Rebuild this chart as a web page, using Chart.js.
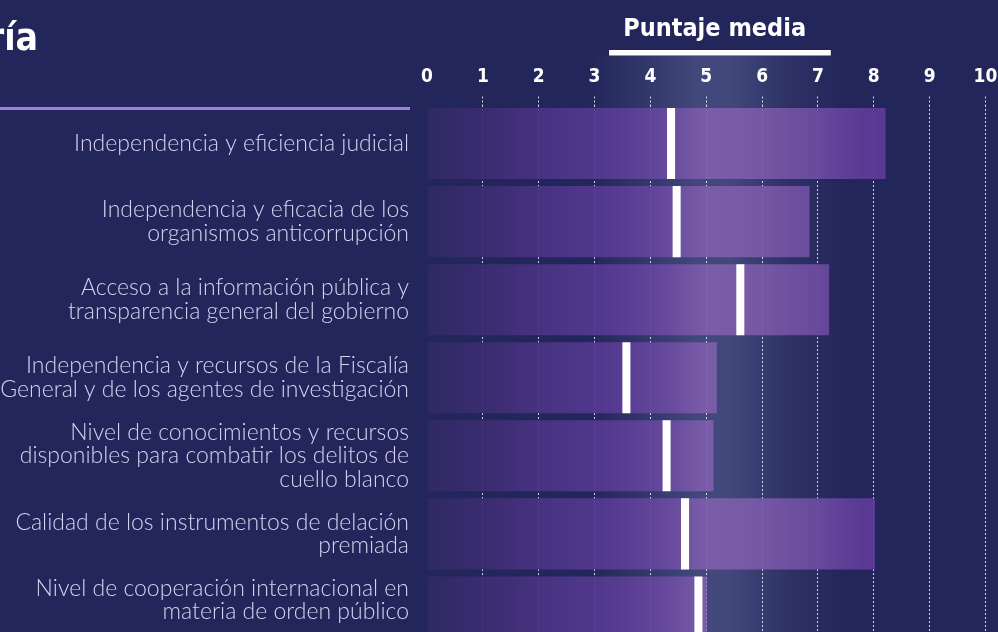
<!DOCTYPE html>
<html>
<head>
<meta charset="utf-8">
<script src="https://cdn.jsdelivr.net/npm/chart.js@4.4.0/dist/chart.umd.min.js"></script>
<style>
  html, body { margin: 0; padding: 0; background: #23265a; overflow: hidden; }
  #wrap { position: relative; width: 998px; height: 651px; }
  #head { position: absolute; right: 960px; top: 19px; color: #fff; font: bold 37px 'DejaVu Sans Condensed', 'DejaVu Sans', sans-serif; line-height: 1; white-space: nowrap; }
  #rule { position: absolute; left: 0; top: 106.5px; width: 410px; height: 3px; background: #a07ee0; }
</style>
</head>
<body>
<div id="wrap">
  <canvas id="grafico"></canvas>
  <div id="head">ría</div>
  <div id="rule"></div>
</div>
<script>
// categorias (eje y)
var categorias = [
  ["Independencia y eficiencia judicial"],
  ["Independencia y eficacia de los", "organismos anticorrupción"],
  ["Acceso a la información pública y", "transparencia general del gobierno"],
  ["Independencia y recursos de la Fiscalía", "General y de los agentes de investigación"],
  ["Nivel de conocimientos y recursos", "disponibles para combatir los delitos de", "cuello blanco"],
  ["Calidad de los instrumentos de delación", "premiada"],
  ["Nivel de cooperación internacional en", "materia de orden público", ""]
];
// valor de la barra
var puntaje = [8.21, 6.85, 7.20, 5.19, 5.13, 8.02, 5.01];
// puntaje media (marca blanca)
var media = [4.37, 4.47, 5.61, 3.57, 4.29, 4.62, 4.86];
var ejeMin = 0, ejeMax = 10;

var fuenteCond = "'DejaVu Sans Condensed', 'DejaVu Sans', sans-serif";

function gradBarra(context) {
  var chart = context.chart;
  var area = chart.chartArea;
  if (!area) return '#5a3a94';
  var x = chart.scales.x;
  var x0 = x.getPixelForValue(0), x1 = x.getPixelForValue(10);
  var g = chart.ctx.createLinearGradient(x0, 0, x1, 0);
  g.addColorStop(0.00, 'rgba(48,42,100,0.93)');
  g.addColorStop(0.10, 'rgba(60,45,114,0.93)');
  g.addColorStop(0.22, 'rgba(76,53,134,0.93)');
  g.addColorStop(0.33, 'rgba(88,59,148,0.93)');
  g.addColorStop(0.42, 'rgba(104,72,158,0.93)');
  g.addColorStop(0.50, 'rgba(126,94,172,0.93)');
  g.addColorStop(0.58, 'rgba(124,92,170,0.93)');
  g.addColorStop(0.70, 'rgba(108,76,160,0.93)');
  g.addColorStop(0.78, 'rgba(94,60,152,0.93)');
  g.addColorStop(1.00, 'rgba(92,59,150,0.93)');
  return g;
}

var fondo = {
  id: 'fondo',
  beforeDraw: function(chart) {
    var c = chart.ctx, x = chart.scales.x;
    var a = x.getPixelForValue(2.9), b = x.getPixelForValue(7.5);
    var g = c.createLinearGradient(a, 0, b, 0);
    g.addColorStop(0.00, 'rgba(66,72,123,0)');
    g.addColorStop(0.22, 'rgba(66,72,123,0.5)');
    g.addColorStop(0.42, 'rgba(66,72,123,1)');
    g.addColorStop(0.55, 'rgba(66,72,123,1)');
    g.addColorStop(0.78, 'rgba(66,72,123,0.35)');
    g.addColorStop(1.00, 'rgba(66,72,123,0)');
    c.save();
    c.fillStyle = g;
    c.fillRect(a, 56, b - a, chart.height - 56);
    c.restore();
  },
  afterDraw: function(chart) {
    var c = chart.ctx, x = chart.scales.x;
    c.save();
    c.fillStyle = '#ffffff';
    c.font = 'bold 25px ' + fuenteCond;
    c.textAlign = 'center';
    c.textBaseline = 'alphabetic';
    c.fillText('Puntaje media', x.getPixelForValue(5.15), 36);
    var u0 = x.getPixelForValue(3.26), u1 = x.getPixelForValue(7.23);
    c.fillRect(u0, 50, u1 - u0, 5.5);
    c.restore();
  }
};

var colorGrid = function(ctx) { return ctx.index === 0 ? 'rgba(0,0,0,0)' : 'rgba(255,255,255,0.8)'; };

new Chart(document.getElementById('grafico'), {
  type: 'bar',
  data: {
    labels: categorias,
    datasets: [
      {
        label: 'Media',
        data: media.map(function(m) { return [m - 0.072, m + 0.072]; }),
        backgroundColor: '#ffffff',
        grouped: false,
        order: 0,
        barPercentage: 0.91,
        categoryPercentage: 1
      },
      {
        label: 'Puntaje',
        data: puntaje,
        backgroundColor: gradBarra,
        grouped: false,
        order: 1,
        barPercentage: 0.91,
        categoryPercentage: 1
      }
    ]
  },
  options: {
    indexAxis: 'y',
    responsive: true,
    maintainAspectRatio: false,
    animation: false,
    layout: { padding: { top: 0, left: 0, right: 12.5, bottom: 0 } },
    plugins: { legend: { display: false }, tooltip: { enabled: false } },
    scales: {
      x: {
        position: 'top',
        min: ejeMin,
        max: ejeMax,
        ticks: {
          stepSize: 1,
          color: '#ffffff',
          padding: 8,
          font: { family: fuenteCond, size: 19, weight: 'bold' }
        },
        grid: {
          color: colorGrid,
          tickColor: colorGrid,
          lineWidth: 1,
          tickLength: 8,
          tickBorderDash: [2, 2]
        },
        border: { display: false, dash: [2, 2] },
        afterFit: function(s) { s.height = 104.5; s.paddingLeft = 0; s.paddingRight = 0; }
      },
      y: {
        ticks: {
          color: '#d8d2f0',
          padding: 18,
          autoSkip: false,
          font: { family: 'Lato', size: 23, weight: 300, lineHeight: 1.02 }
        },
        grid: { display: false, drawTicks: false },
        border: { display: false },
        afterFit: function(s) { s.width = 427; s.paddingTop = 0; s.paddingBottom = 0; }
      }
    }
  },
  plugins: [fondo]
});
</script>
</body>
</html>
